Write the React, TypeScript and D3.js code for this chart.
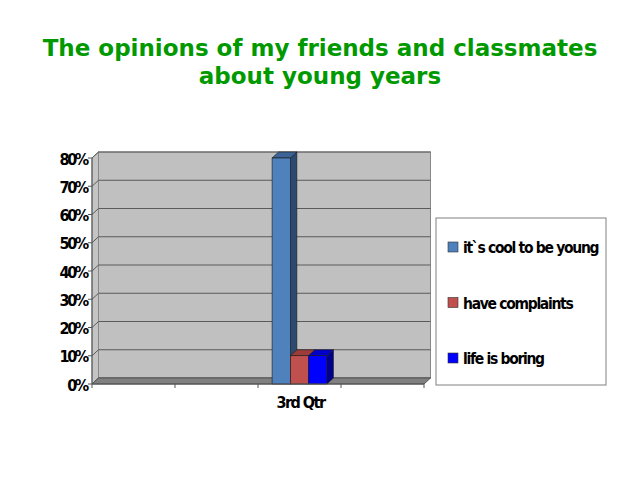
import React from "react";
import * as d3 from "d3";

// data
const categories = ["1st Qtr", "2nd Qtr", "3rd Qtr", "4th Qtr"];
const shownCategory = "3rd Qtr";
const seriesNames = ["it`s cool to be young", "have complaints", "life is boring"];
const seriesValues = [0.8, 0.1, 0.1];
const yTicks = [0, 0.1, 0.2, 0.3, 0.4, 0.5, 0.6, 0.7, 0.8];

const colors = [
  { front: "#4F81BD", side: "#2C4A70", top: "#3D6496" },
  { front: "#C0504D", side: "#7A2E2C", top: "#9C3C3A" },
  { front: "#0000FF", side: "#00008C", top: "#0000C8" },
];

const App: React.FC = () => {
  const left = 92;
  const right = 424;
  const bottom = 384;
  const top = 158;
  const dx = 6.5;
  const dy = -6;

  const x = d3.scaleBand<string>().domain(categories).range([left, right]);
  const y = d3.scaleLinear().domain([0, 0.8]).range([bottom, top]);
  const inner = d3
    .scaleBand<string>()
    .domain(seriesNames)
    .range([0, x.bandwidth()])
    .paddingOuter(0.77)
    .paddingInner(0);

  const labelFont = "'DejaVu Sans Condensed', 'DejaVu Sans', sans-serif";
  const fmt = d3.format(".0%");

  const bx = x(shownCategory) as number;

  return (
    <svg width={640} height={480} style={{ position: "absolute", left: 0, top: 0 }}>
      <rect width={640} height={480} fill="#fff" />
      <text x={320} y={56} textAnchor="middle" fontFamily="'DejaVu Sans', sans-serif" fontWeight="bold" fontSize={23} fill="#009900">
        The opinions of my friends and classmates
      </text>
      <text x={320} y={84} textAnchor="middle" fontFamily="'DejaVu Sans', sans-serif" fontWeight="bold" fontSize={23} fill="#009900">
        about young years
      </text>

      {/* back wall */}
      <rect x={left + dx} y={top + dy} width={right - left} height={bottom - top} fill="#C0C0C0" stroke="#888" strokeWidth={1} />
      {/* side wall */}
      <polygon
        points={`${left},${top} ${left + dx},${top + dy} ${left + dx},${bottom + dy} ${left},${bottom}`}
        fill="#C4C4C4"
        stroke="#888"
        strokeWidth={1}
      />
      {/* grid lines */}
      {yTicks.map((t) => (
        <g key={t}>
          <line x1={left + dx} x2={right + dx} y1={y(t) + dy} y2={y(t) + dy} stroke="#5a5a5a" strokeWidth={1} />
          <line x1={left} x2={left + dx} y1={y(t)} y2={y(t) + dy} stroke="#5a5a5a" strokeWidth={1} />
        </g>
      ))}
      {/* floor */}
      <polygon
        points={`${left},${bottom} ${right},${bottom} ${right + dx},${bottom + dy} ${left + dx},${bottom + dy}`}
        fill="#808080"
        stroke="#555"
        strokeWidth={1}
      />

      {/* bars */}
      {seriesNames.map((s, i) => {
        const x0 = bx + (inner(s) as number);
        const w = inner.bandwidth();
        const y0 = y(seriesValues[i]);
        const c = colors[i];
        return (
          <g key={s} stroke="#1a1a1a" strokeWidth={0.6}>
            <polygon
              points={`${x0 + w},${y0} ${x0 + w + dx},${y0 + dy} ${x0 + w + dx},${bottom + dy} ${x0 + w},${bottom}`}
              fill={c.side}
            />
            <polygon
              points={`${x0},${y0} ${x0 + dx},${y0 + dy} ${x0 + w + dx},${y0 + dy} ${x0 + w},${y0}`}
              fill={c.top}
            />
            <rect x={x0} y={y0} width={w} height={bottom - y0} fill={c.front} />
          </g>
        );
      })}

      {/* y axis */}
      <line x1={left} x2={left} y1={top} y2={bottom} stroke="#555" />
      {yTicks.map((t) => (
        <g key={t}>
          <line x1={left - 4} x2={left} y1={y(t)} y2={y(t)} stroke="#555" />
          <text x={left - 5} y={y(t) + 6.5} textAnchor="end" fontFamily={labelFont} fontWeight="bold" fontSize={16} letterSpacing={-2.3} fill="#000">
            {fmt(t)}
          </text>
        </g>
      ))}

      {/* x axis */}
      <line x1={left} x2={right} y1={bottom} y2={bottom} stroke="#555" />
      {[...categories.map((c) => x(c) as number), right].map((v, i) => (
        <line key={i} x1={v} x2={v} y1={bottom} y2={bottom + 4} stroke="#555" />
      ))}
      <text
        x={bx + x.bandwidth() / 2 + 1}
        y={408}
        textAnchor="middle"
        fontFamily={labelFont}
        fontWeight="bold"
        fontSize={16}
        letterSpacing={-1.5}
        fill="#000"
      >
        {shownCategory}
      </text>

      {/* legend */}
      <rect x={436} y={218} width={170} height={167} fill="#fff" stroke="#808080" />
      {seriesNames.map((s, i) => (
        <g key={s} transform={`translate(448,${242 + i * 55.5})`}>
          <rect width={10} height={10} fill={colors[i].front} stroke="#333" strokeWidth={0.6} />
          <text x={15} y={11} fontFamily={labelFont} fontWeight="bold" fontSize={15.5} letterSpacing={-1.3} fill="#000">
            {s}
          </text>
        </g>
      ))}
    </svg>
  );
};

export default App;
